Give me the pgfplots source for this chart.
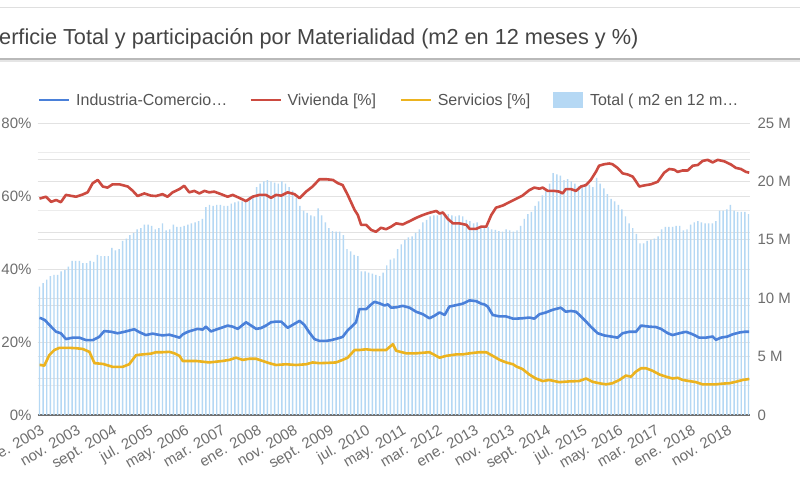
\documentclass[border=0pt]{standalone}
\usepackage{fontspec}
\setmainfont{Liberation Sans}
\usepackage{pgfplots}
\pgfplotsset{compat=1.18}
\usepackage{pgfplotstable}
\definecolor{cblue}{HTML}{4A80D9}
\definecolor{cred}{HTML}{CC4A40}
\definecolor{cyel}{HTML}{ECB31F}
\definecolor{barblue}{HTML}{B5D8F4}
\definecolor{gridc}{HTML}{E2E2E2}
\definecolor{gridm}{HTML}{ECECEC}
\definecolor{basec}{HTML}{707070}
\definecolor{tickc}{HTML}{6E6E6E}
\definecolor{legc}{HTML}{555555}
\definecolor{titc}{HTML}{444444}
\pgfplotstableread{
m v
0 11.0
1 11.3
2 11.6
3 11.9
4 12.0
5 12.0
6 12.3
7 12.4
8 12.7
9 13.2
10 13.2
11 13.2
12 13.0
13 13.0
14 13.2
15 13.1
16 13.7
17 13.6
18 13.6
19 13.6
20 14.3
21 14.1
22 14.2
23 14.9
24 15.1
25 15.4
26 15.6
27 15.9
28 16.0
29 16.3
30 16.3
31 16.2
32 15.9
33 16.0
34 16.4
35 15.8
36 15.9
37 16.3
38 16.1
39 16.1
40 16.2
41 16.3
42 16.4
43 16.5
44 16.6
45 16.8
46 17.8
47 18.0
48 17.9
49 18.0
50 18.0
51 17.9
52 17.9
53 18.1
54 18.2
55 18.3
56 18.3
57 18.4
58 18.7
59 18.8
60 19.5
61 19.8
62 20.0
63 20.1
64 20.0
65 19.9
66 19.8
67 20.0
68 19.8
69 19.5
70 19.2
71 18.6
72 17.9
73 17.5
74 17.3
75 17.1
76 17.0
77 17.7
78 17.1
79 16.5
80 16.0
81 15.75
82 15.7
83 15.7
84 15.4
85 14.2
86 14.0
87 13.7
88 13.6
89 12.3
90 12.3
91 12.2
92 12.1
93 12.0
94 11.9
95 12.2
96 12.8
97 13.3
98 13.4
99 14.2
100 14.6
101 15.0
102 15.2
103 15.3
104 15.6
105 15.9
106 16.5
107 16.7
108 17.0
109 17.1
110 17.1
111 17.2
112 17.1
113 17.2
114 17.1
115 17.0
116 17.1
117 17.0
118 16.7
119 16.6
120 16.4
121 16.5
122 16.2
123 16.0
124 16.1
125 15.9
126 15.85
127 15.75
128 15.7
129 15.9
130 15.8
131 15.7
132 15.8
133 16.2
134 16.8
135 17.2
136 17.4
137 17.9
138 18.3
139 18.8
140 19.3
141 19.8
142 20.7
143 20.6
144 20.5
145 20.1
146 20.2
147 20.0
148 19.8
149 19.6
150 19.7
151 19.8
152 19.7
153 19.5
154 20.3
155 19.8
156 19.4
157 18.9
158 18.5
159 18.3
160 18.0
161 17.6
162 17.0
163 16.4
164 16.0
165 15.5
166 14.7
167 14.7
168 14.9
169 15.0
170 15.1
171 15.3
172 15.9
173 16.1
174 16.1
175 16.1
176 16.2
177 16.2
178 15.8
179 15.9
180 16.3
181 16.5
182 16.6
183 16.5
184 16.4
185 16.4
186 16.4
187 16.6
188 17.5
189 17.5
190 17.6
191 18.0
192 17.5
193 17.4
194 17.4
195 17.4
196 17.2
}\totaltable
\begin{document}
\begin{tikzpicture}[x=1pt,y=1pt]
\clip (0,0) rectangle (800,500);
\fill[white] (0,0) rectangle (800,500);
\draw[gray!25, line width=1pt] (0,492) -- (800,492);
\node[anchor=base west, inner sep=0pt, text=titc, font=\fontsize{21.7}{24}\selectfont] at (-1,455) {erficie Total y participación por Materialidad (m2 en 12 meses y \%)};
\draw[gray!20, line width=3pt] (0,439.5) -- (800,439.5);
\draw[gray!55, line width=1.2pt] (0,441) -- (800,441);
\begin{axis}[
  at={(37.7pt,85pt)}, anchor=south west, scale only axis,
  width=712.6pt, height=292pt,
  xmin=-0.5, xmax=196.5, ymin=0, ymax=25,
  axis y line*=right, axis x line*=bottom,
  y axis line style={draw=none},
  x axis line style={draw=basec, line width=1.6pt, -},
  xtick={0,10,...,190},
  xticklabels={ene. 2003, nov. 2003, sept. 2004, jul. 2005, may. 2006, mar. 2007, ene. 2008, nov. 2008, sept. 2009, jul. 2010, may. 2011, mar. 2012, ene. 2013, nov. 2013, sept. 2014, jul. 2015, may. 2016, mar. 2017, ene. 2018, nov. 2018},
  xticklabel style={rotate=30, anchor=north east, inner sep=0pt, xshift=-4pt, yshift=-8pt, font=\fontsize{15}{17}\selectfont, text=tickc},
  ytick={0,5,...,25}, yticklabels={0,5 M,10 M,15 M,20 M,25 M},
  yticklabel style={anchor=west, inner sep=0pt, xshift=7pt, font=\fontsize{15}{17}\selectfont, text=tickc},
  minor ytick={2.5,7.5,...,22.5},
  extra y ticks={3.125,6.25,9.375,12.5,15.625,18.75,21.875},
  extra y tick labels={},
  extra y tick style={grid=major},
  ymajorgrids, yminorgrids,
  major grid style={draw=gridc, line width=0.9pt},
  minor grid style={draw=gridm, line width=0.9pt},
  major tick length=0pt, minor tick length=0pt,
  tick style={draw=none},
  clip=false,
]
\addplot[ybar, bar width=1.45pt, bar shift=0pt, fill=barblue, draw=none] table[x=m, y=v] {\totaltable};
\end{axis}
\begin{axis}[
  at={(37.7pt,85pt)}, anchor=south west, scale only axis,
  width=712.6pt, height=292pt,
  xmin=-0.5, xmax=196.5, ymin=0, ymax=80,
  axis y line*=left, axis x line=none,
  y axis line style={draw=none},
  ytick={0,20,40,60,80}, yticklabels={0\%,20\%,40\%,60\%,80\%},
  yticklabel style={anchor=east, inner sep=0pt, xshift=-6pt, font=\fontsize{15}{17}\selectfont, text=tickc},
  major tick length=0pt, tick style={draw=none},
  legend columns=4,
  legend style={at={(axis description cs:0,1.0788)}, anchor=west, draw=none, fill=none, inner sep=0pt, column sep=0pt, font=\fontsize{16}{18}\selectfont, text=legc, nodes={inner sep=0pt}},
  legend image code/.code={\draw[#1, line width=2.6pt] (0pt,0pt) -- (30pt,0pt); \path[draw=none, fill=none] (0pt,-7.5pt) rectangle (37pt,7.5pt);},
]
\addplot[cblue, line width=2.6pt, line join=round, mark=none] coordinates {
(0,26.6)(0.4,26.5)(1.5,26.0)(2.7,24.7)(4.6,22.8)(5.9,22.4)(7.3,20.8)(9.2,21.2)(11.0,21.2)(12.9,20.5)(14.7,20.5)(16.5,21.4)(17.9,23.0)(19.8,22.8)(21.6,22.4)(23.5,22.8)(26.2,23.5)(27.6,22.7)(29.4,21.9)(31.3,22.3)(32.2,22.1)(34.0,21.8)(35.9,22.0)(37.7,21.5)(38.7,21.2)(39.6,22.1)(41.0,22.8)(42.3,23.2)(43.7,23.6)(45.1,23.4)(46.0,24.2)(47.4,22.9)(48.8,23.4)(50.6,24.0)(52.0,24.5)(53.4,24.2)(54.8,23.6)(56.2,24.7)(57.1,25.4)(58.5,24.5)(59.9,23.6)(61.2,23.8)(62.6,24.5)(64.0,25.4)(65.4,25.6)(66.8,25.6)(68.6,23.9)(70.0,24.7)(71.9,25.8)(73.2,24.7)(74.6,22.6)(76.0,20.8)(77.4,20.3)(79.2,20.3)(80.6,20.5)(82.5,21.0)(83.8,21.4)(85.2,23.2)(86.6,24.5)(87.5,25.4)(88.4,29.0)(90.3,29.0)(91.7,30.3)(92.6,31.0)(94.0,30.6)(95.4,30.0)(96.3,30.3)(97.2,29.4)(98.6,29.5)(100.4,29.9)(102.3,29.4)(104.1,28.3)(106.0,27.6)(107.8,26.5)(109.2,27.2)(110.6,28.1)(112.0,27.4)(113.3,29.7)(115.2,30.1)(117.0,30.5)(118.9,31.4)(120.7,31.2)(122.1,30.5)(123.0,30.3)(123.9,29.7)(125.3,27.4)(127.2,27.0)(129.0,27.0)(130.9,26.4)(131.8,26.4)(133.5,26.5)(135.4,26.7)(136.8,26.4)(138.2,27.6)(140.0,28.1)(141.8,28.8)(144.1,29.4)(145.5,28.3)(146.9,28.5)(148.3,28.3)(149.7,27.0)(151.1,25.6)(152.4,24.2)(154.3,22.4)(156.1,21.8)(158.0,21.5)(159.8,21.2)(161.2,22.4)(163.0,22.8)(164.9,22.8)(166.3,24.5)(168.6,24.2)(170.4,24.1)(171.8,23.6)(173.7,22.4)(175.0,21.9)(176.9,22.4)(178.7,22.8)(180.1,22.3)(181.0,21.9)(182.4,21.2)(184.3,21.2)(186.1,21.5)(187.0,20.6)(188.4,21.2)(190.2,21.5)(191.6,22.1)(193.5,22.6)(194.9,22.8)(196.2,22.8)
};
\addlegendentry{\makebox[173pt][l]{Industria-Comercio…}}
\addplot[cred, line width=2.6pt, line join=round, mark=none] coordinates {
(0,59.3)(0.4,59.4)(1.8,59.8)(3.2,58.4)(4.6,58.9)(5.9,58.3)(7.3,60.3)(10.1,59.8)(11.9,60.4)(13.3,61.0)(14.7,63.5)(16.1,64.4)(17.5,62.6)(18.8,62.3)(20.2,63.2)(22.1,63.2)(24.4,62.6)(25.8,61.4)(27.1,60.0)(29.0,60.7)(30.8,60.1)(32.2,60.0)(34.0,60.5)(35.4,59.8)(36.8,61.0)(38.7,61.9)(40.0,62.8)(41.4,61.0)(42.8,61.4)(44.2,60.7)(45.6,61.4)(46.9,61.0)(48.3,61.2)(50.2,60.5)(52.0,59.8)(53.4,60.3)(55.2,59.5)(57.1,58.6)(58.9,59.8)(60.8,60.3)(62.6,60.3)(64.0,59.5)(65.4,60.3)(66.8,60.1)(68.6,61.0)(70.5,60.5)(71.9,59.4)(73.7,61.2)(75.5,62.6)(77.4,64.6)(79.2,64.6)(81.1,64.4)(82.5,63.5)(83.8,63.0)(85.2,60.3)(87.1,56.2)(88.0,54.8)(88.9,52.1)(90.3,52.1)(91.7,50.7)(93.0,50.2)(94.4,51.3)(95.8,50.9)(97.2,51.6)(98.6,52.5)(100.4,52.2)(102.3,53.1)(104.1,54.0)(106.0,54.8)(107.8,55.4)(109.7,55.9)(110.6,55.2)(111.5,55.5)(112.9,53.7)(114.3,52.5)(116.1,52.5)(118.0,52.1)(118.9,51.0)(120.7,51.0)(122.1,51.6)(123.5,51.6)(124.9,54.8)(126.2,56.8)(128.1,57.4)(129.9,58.3)(131.7,59.2)(133.5,60.1)(135.4,61.6)(136.8,62.3)(138.2,62.0)(139.1,62.3)(140.5,61.4)(142.3,61.4)(143.7,61.2)(144.6,60.7)(145.5,61.9)(146.9,61.9)(148.3,61.4)(149.7,62.6)(151.1,63.0)(152.4,64.4)(153.8,66.6)(154.7,68.3)(156.1,68.7)(157.5,68.9)(158.4,68.7)(159.8,67.7)(161.2,66.2)(162.6,65.9)(164.0,65.3)(164.9,64.0)(165.8,62.6)(167.2,62.9)(169.0,63.2)(170.9,63.9)(172.7,66.4)(174.1,67.4)(175.5,67.2)(176.4,66.6)(177.8,67.0)(179.2,67.0)(180.6,68.3)(182.0,68.5)(183.3,69.6)(184.7,69.9)(186.1,69.2)(187.5,69.9)(189.3,69.5)(191.2,68.6)(192.5,67.7)(193.9,67.4)(195.3,66.6)(196.2,66.4)
};
\addlegendentry{\makebox[112pt][l]{Vivienda [\%]}}
\addplot[cyel, line width=2.6pt, line join=round, mark=none] coordinates {
(0,13.7)(0.4,13.7)(1.3,13.5)(2.7,16.4)(4.1,17.8)(5.5,18.4)(8.2,18.4)(10.1,18.3)(11.9,18.1)(13.8,17.3)(15.2,14.2)(17.5,14.0)(20.2,13.2)(23.0,13.2)(24.8,13.9)(26.7,16.4)(28.5,16.6)(30.8,16.8)(32.2,17.2)(34.0,17.2)(35.9,17.3)(37.3,16.9)(38.7,16.2)(39.6,14.8)(41.4,14.8)(43.3,14.8)(45.1,14.6)(46.9,14.4)(48.8,14.6)(50.6,14.8)(52.5,15.1)(54.3,15.7)(56.2,15.1)(58.0,15.4)(59.9,15.4)(61.7,14.8)(63.5,14.2)(65.4,13.7)(68.2,13.9)(70.9,13.7)(73.7,13.9)(75.5,14.4)(77.4,14.2)(80.1,14.3)(82.0,14.4)(83.8,15.1)(85.2,15.7)(87.1,17.8)(88.4,17.8)(90.3,18.0)(92.1,17.8)(94.0,17.8)(95.8,17.8)(97.7,19.4)(98.6,17.6)(101.4,16.9)(104.1,16.9)(107.8,17.2)(110.6,15.7)(112.4,16.2)(115.2,16.6)(117.0,16.6)(118.9,16.9)(121.6,17.2)(123.5,17.2)(125.3,16.2)(127.2,15.1)(129.0,14.4)(130.9,13.9)(131.8,13.3)(133.5,12.6)(135.4,11.1)(137.2,10.0)(139.1,9.3)(140.9,9.6)(143.7,9.0)(146.4,9.2)(149.2,9.3)(151.1,10.0)(152.9,9.1)(154.7,8.7)(156.6,8.4)(158.4,8.7)(160.3,9.6)(162.1,10.8)(163.5,10.5)(164.9,11.9)(166.3,12.8)(167.7,12.8)(169.5,12.1)(171.4,11.1)(173.2,10.5)(175.0,10.0)(176.4,10.2)(177.8,9.6)(179.6,9.3)(181.5,9.0)(183.3,8.4)(185.2,8.4)(187.0,8.4)(188.9,8.6)(190.7,8.7)(192.5,9.1)(194.4,9.6)(195.8,9.8)(196.2,9.9)
};
\addlegendentry{\makebox[115pt][l]{Servicios [\%]}}
\addlegendimage{legend image code/.code={\fill[barblue] (0pt,-7.5pt) rectangle (29pt,7.5pt); \path[draw=none, fill=none] (0pt,0pt) -- (37pt,0pt);}}
\addlegendentry{Total ( m2 en 12 m…}
\end{axis}
\end{tikzpicture}
\end{document}
